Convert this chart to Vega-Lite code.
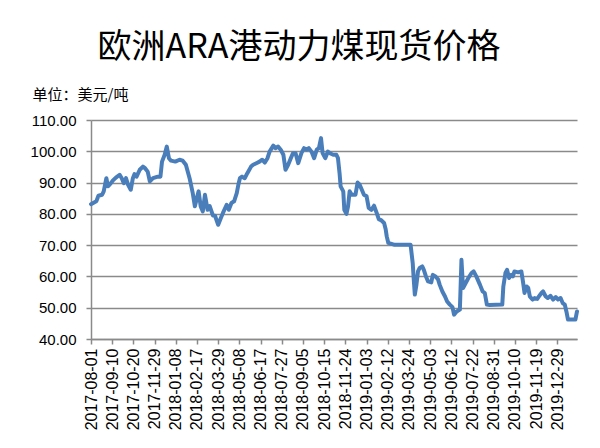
{
  "$schema": "https://vega.github.io/schema/vega-lite/v6.json",
  "width": 486,
  "height": 219,
  "autosize": {"type": "none"},
  "padding": {"left": 91, "top": 120, "right": 23, "bottom": 109},
  "background": "#ffffff",
  "title": {
    "text": "欧洲ARA港动力煤现货价格",
    "font": "Noto Sans CJK SC",
    "fontSize": 34,
    "fontWeight": "normal",
    "color": "#000000",
    "anchor": "middle",
    "frame": "group",
    "dx": -35,
    "offset": 22
  },
  "config": {
    "view": {"stroke": null},
    "axis": {
      "labelFont": "Liberation Sans",
      "labelFontSize": 15,
      "labelColor": "#000000",
      "domainColor": "#8a8a8a",
      "tickColor": "#8a8a8a",
      "gridColor": "#8a8a8a",
      "domainWidth": 1.5,
      "tickWidth": 1.5,
      "gridWidth": 1.5
    }
  },
  "data": {
    "values": [
      {"date": "2017-08-01", "price": 83.1},
      {"date": "2017-08-11", "price": 84.0},
      {"date": "2017-08-15", "price": 85.8},
      {"date": "2017-08-22", "price": 86.1},
      {"date": "2017-08-25", "price": 87.2},
      {"date": "2017-08-30", "price": 91.4},
      {"date": "2017-09-02", "price": 88.8},
      {"date": "2017-09-06", "price": 89.5},
      {"date": "2017-09-11", "price": 90.6},
      {"date": "2017-09-17", "price": 91.6},
      {"date": "2017-09-24", "price": 92.5},
      {"date": "2017-09-28", "price": 91.4},
      {"date": "2017-10-02", "price": 89.8},
      {"date": "2017-10-06", "price": 91.4},
      {"date": "2017-10-10", "price": 89.3},
      {"date": "2017-10-15", "price": 87.7},
      {"date": "2017-10-19", "price": 91.4},
      {"date": "2017-10-22", "price": 92.7},
      {"date": "2017-10-26", "price": 91.9},
      {"date": "2017-11-01", "price": 94.1},
      {"date": "2017-11-07", "price": 95.1},
      {"date": "2017-11-11", "price": 94.6},
      {"date": "2017-11-16", "price": 93.5},
      {"date": "2017-11-20", "price": 90.4},
      {"date": "2017-11-26", "price": 91.4},
      {"date": "2017-12-05", "price": 91.9},
      {"date": "2017-12-10", "price": 91.9},
      {"date": "2017-12-13", "price": 96.7},
      {"date": "2017-12-18", "price": 98.9},
      {"date": "2017-12-22", "price": 101.5},
      {"date": "2017-12-26", "price": 97.8},
      {"date": "2017-12-30", "price": 97.0},
      {"date": "2018-01-07", "price": 96.7},
      {"date": "2018-01-15", "price": 97.3},
      {"date": "2018-01-21", "price": 97.0},
      {"date": "2018-01-27", "price": 95.7},
      {"date": "2018-02-03", "price": 91.4},
      {"date": "2018-02-09", "price": 86.6},
      {"date": "2018-02-13", "price": 82.4},
      {"date": "2018-02-20", "price": 87.2},
      {"date": "2018-02-24", "price": 82.4},
      {"date": "2018-02-28", "price": 80.8},
      {"date": "2018-03-04", "price": 86.1},
      {"date": "2018-03-09", "price": 81.3},
      {"date": "2018-03-13", "price": 82.5},
      {"date": "2018-03-19", "price": 79.5},
      {"date": "2018-03-23", "price": 79.4},
      {"date": "2018-03-29", "price": 76.5},
      {"date": "2018-04-03", "price": 78.7},
      {"date": "2018-04-07", "price": 80.3},
      {"date": "2018-04-14", "price": 82.9},
      {"date": "2018-04-18", "price": 81.3},
      {"date": "2018-04-23", "price": 83.5},
      {"date": "2018-04-28", "price": 84.0},
      {"date": "2018-05-03", "price": 86.6},
      {"date": "2018-05-06", "price": 89.3},
      {"date": "2018-05-09", "price": 91.4},
      {"date": "2018-05-13", "price": 91.9},
      {"date": "2018-05-18", "price": 91.4},
      {"date": "2018-05-23", "price": 93.0},
      {"date": "2018-05-30", "price": 95.1},
      {"date": "2018-06-03", "price": 95.7},
      {"date": "2018-06-09", "price": 96.2},
      {"date": "2018-06-15", "price": 96.7},
      {"date": "2018-06-20", "price": 97.3},
      {"date": "2018-06-25", "price": 96.4},
      {"date": "2018-06-30", "price": 97.8},
      {"date": "2018-07-04", "price": 99.9},
      {"date": "2018-07-11", "price": 101.8},
      {"date": "2018-07-15", "price": 101.0},
      {"date": "2018-07-20", "price": 101.5},
      {"date": "2018-07-25", "price": 100.5},
      {"date": "2018-07-30", "price": 98.9},
      {"date": "2018-08-03", "price": 94.1},
      {"date": "2018-08-08", "price": 95.7},
      {"date": "2018-08-13", "price": 97.8},
      {"date": "2018-08-17", "price": 99.4},
      {"date": "2018-08-22", "price": 99.4},
      {"date": "2018-08-27", "price": 96.2},
      {"date": "2018-09-02", "price": 99.4},
      {"date": "2018-09-07", "price": 101.0},
      {"date": "2018-09-12", "price": 100.5},
      {"date": "2018-09-16", "price": 101.0},
      {"date": "2018-09-21", "price": 99.9},
      {"date": "2018-09-26", "price": 97.8},
      {"date": "2018-10-01", "price": 100.5},
      {"date": "2018-10-05", "price": 101.0},
      {"date": "2018-10-09", "price": 104.2},
      {"date": "2018-10-12", "price": 99.4},
      {"date": "2018-10-17", "price": 97.8},
      {"date": "2018-10-22", "price": 99.9},
      {"date": "2018-10-28", "price": 99.2},
      {"date": "2018-11-01", "price": 98.9},
      {"date": "2018-11-07", "price": 98.9},
      {"date": "2018-11-10", "price": 97.8},
      {"date": "2018-11-13", "price": 93.0},
      {"date": "2018-11-15", "price": 88.8},
      {"date": "2018-11-20", "price": 87.2},
      {"date": "2018-11-22", "price": 81.3},
      {"date": "2018-11-26", "price": 80.0},
      {"date": "2018-11-29", "price": 82.4},
      {"date": "2018-12-02", "price": 87.2},
      {"date": "2018-12-06", "price": 86.1},
      {"date": "2018-12-13", "price": 86.1},
      {"date": "2018-12-17", "price": 90.0},
      {"date": "2018-12-21", "price": 89.3},
      {"date": "2018-12-25", "price": 87.7},
      {"date": "2018-12-29", "price": 86.1},
      {"date": "2019-01-03", "price": 85.6},
      {"date": "2019-01-07", "price": 81.9},
      {"date": "2019-01-12", "price": 81.3},
      {"date": "2019-01-17", "price": 82.6},
      {"date": "2019-01-22", "price": 80.3},
      {"date": "2019-01-26", "price": 78.3},
      {"date": "2019-01-31", "price": 77.9},
      {"date": "2019-02-05", "price": 77.1},
      {"date": "2019-02-08", "price": 75.1},
      {"date": "2019-02-10", "price": 72.8},
      {"date": "2019-02-13", "price": 70.7},
      {"date": "2019-02-19", "price": 70.4},
      {"date": "2019-02-25", "price": 70.1},
      {"date": "2019-03-27", "price": 70.1},
      {"date": "2019-03-31", "price": 64.3},
      {"date": "2019-04-02", "price": 59.0},
      {"date": "2019-04-04", "price": 54.2},
      {"date": "2019-04-07", "price": 57.3},
      {"date": "2019-04-10", "price": 61.6},
      {"date": "2019-04-13", "price": 62.7},
      {"date": "2019-04-18", "price": 63.2},
      {"date": "2019-04-21", "price": 62.1},
      {"date": "2019-04-25", "price": 60.0},
      {"date": "2019-04-29", "price": 58.4},
      {"date": "2019-05-05", "price": 58.1},
      {"date": "2019-05-08", "price": 60.5},
      {"date": "2019-05-13", "price": 60.0},
      {"date": "2019-05-18", "price": 59.0},
      {"date": "2019-05-21", "price": 57.3},
      {"date": "2019-05-26", "price": 55.2},
      {"date": "2019-05-31", "price": 53.6},
      {"date": "2019-06-04", "price": 52.0},
      {"date": "2019-06-09", "price": 51.0},
      {"date": "2019-06-14", "price": 50.2},
      {"date": "2019-06-17", "price": 47.8},
      {"date": "2019-06-22", "price": 48.8},
      {"date": "2019-06-28", "price": 49.4},
      {"date": "2019-07-01", "price": 65.3},
      {"date": "2019-07-04", "price": 56.3},
      {"date": "2019-07-09", "price": 57.9},
      {"date": "2019-07-14", "price": 59.5},
      {"date": "2019-07-20", "price": 61.1},
      {"date": "2019-07-24", "price": 61.6},
      {"date": "2019-07-29", "price": 60.0},
      {"date": "2019-08-05", "price": 57.3},
      {"date": "2019-08-10", "price": 55.2},
      {"date": "2019-08-14", "price": 54.7},
      {"date": "2019-08-18", "price": 51.0},
      {"date": "2019-08-23", "price": 50.9},
      {"date": "2019-09-16", "price": 51.0},
      {"date": "2019-09-18", "price": 56.8},
      {"date": "2019-09-22", "price": 61.1},
      {"date": "2019-09-25", "price": 62.1},
      {"date": "2019-09-29", "price": 59.5},
      {"date": "2019-10-03", "price": 60.5},
      {"date": "2019-10-06", "price": 60.0},
      {"date": "2019-10-09", "price": 61.6},
      {"date": "2019-10-16", "price": 61.3},
      {"date": "2019-10-22", "price": 61.6},
      {"date": "2019-10-25", "price": 58.4},
      {"date": "2019-10-28", "price": 54.7},
      {"date": "2019-11-01", "price": 56.8},
      {"date": "2019-11-04", "price": 56.3},
      {"date": "2019-11-07", "price": 53.6},
      {"date": "2019-11-12", "price": 52.6},
      {"date": "2019-11-16", "price": 53.1},
      {"date": "2019-11-21", "price": 52.8},
      {"date": "2019-11-24", "price": 53.6},
      {"date": "2019-11-29", "price": 54.7},
      {"date": "2019-12-02", "price": 55.2},
      {"date": "2019-12-07", "price": 53.6},
      {"date": "2019-12-11", "price": 53.1},
      {"date": "2019-12-16", "price": 53.8},
      {"date": "2019-12-21", "price": 52.6},
      {"date": "2019-12-26", "price": 53.4},
      {"date": "2019-12-30", "price": 52.6},
      {"date": "2020-01-04", "price": 53.1},
      {"date": "2020-01-08", "price": 51.5},
      {"date": "2020-01-12", "price": 51.0},
      {"date": "2020-01-15", "price": 48.8},
      {"date": "2020-01-18", "price": 46.2},
      {"date": "2020-02-01", "price": 46.2},
      {"date": "2020-02-04", "price": 48.8}
    ]
  },
  "mark": {"type": "line", "color": "#4a7ebb", "strokeWidth": 4, "strokeJoin": "round", "strokeCap": "round"},
  "encoding": {
    "x": {
      "field": "date",
      "type": "temporal",
      "scale": {
        "type": "utc",
        "domain": [
          {"year": 2017, "month": 8, "date": 1, "utc": true},
          {"year": 2020, "month": 2, "date": 4, "utc": true}
        ]
      },
      "axis": {
        "title": null,
        "grid": false,
        "format": "%Y-%m-%d",
        "labelAngle": -90,
        "labelFontSize": 16,
        "labelPadding": 4,
        "tickSize": 5,
        "labelOverlap": false,
        "values": [
          {"year": 2017, "month": 8, "date": 1, "utc": true},
          {"year": 2017, "month": 9, "date": 10, "utc": true},
          {"year": 2017, "month": 10, "date": 20, "utc": true},
          {"year": 2017, "month": 11, "date": 29, "utc": true},
          {"year": 2018, "month": 1, "date": 8, "utc": true},
          {"year": 2018, "month": 2, "date": 17, "utc": true},
          {"year": 2018, "month": 3, "date": 29, "utc": true},
          {"year": 2018, "month": 5, "date": 8, "utc": true},
          {"year": 2018, "month": 6, "date": 17, "utc": true},
          {"year": 2018, "month": 7, "date": 27, "utc": true},
          {"year": 2018, "month": 9, "date": 5, "utc": true},
          {"year": 2018, "month": 10, "date": 15, "utc": true},
          {"year": 2018, "month": 11, "date": 24, "utc": true},
          {"year": 2019, "month": 1, "date": 3, "utc": true},
          {"year": 2019, "month": 2, "date": 12, "utc": true},
          {"year": 2019, "month": 3, "date": 24, "utc": true},
          {"year": 2019, "month": 5, "date": 3, "utc": true},
          {"year": 2019, "month": 6, "date": 12, "utc": true},
          {"year": 2019, "month": 7, "date": 22, "utc": true},
          {"year": 2019, "month": 8, "date": 31, "utc": true},
          {"year": 2019, "month": 10, "date": 10, "utc": true},
          {"year": 2019, "month": 11, "date": 19, "utc": true},
          {"year": 2019, "month": 12, "date": 29, "utc": true}
        ]
      }
    },
    "y": {
      "field": "price",
      "type": "quantitative",
      "scale": {"domain": [40, 110], "nice": false, "zero": false},
      "axis": {
        "values": [40, 50, 60, 70, 80, 90, 100, 110],
        "format": ".2f",
        "tickSize": 5,
        "labelPadding": 10,
        "title": "单位：美元/吨",
        "titleFont": "Noto Sans CJK SC",
        "titleFontSize": 15,
        "titleFontWeight": "normal",
        "titleColor": "#000000",
        "titleAngle": 0,
        "titleAlign": "left",
        "titleBaseline": "middle",
        "titleX": -59,
        "titleY": -26
      }
    }
  }
}
